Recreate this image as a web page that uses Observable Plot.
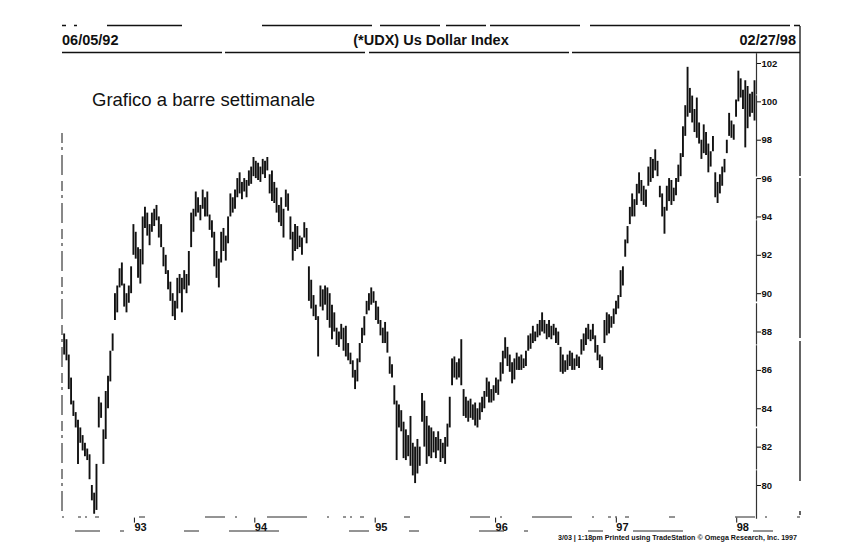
<!DOCTYPE html>
<html><head><meta charset="utf-8">
<script src="https://cdn.jsdelivr.net/npm/d3@7"></script>
<script src="https://cdn.jsdelivr.net/npm/@observablehq/plot@0.6"></script>
<style>
body{margin:0;background:#fff}
#chart{position:relative;width:846px;height:552px}
#chart svg text{font-family:"Liberation Sans",Arial,sans-serif}
</style>
</head><body><div id="chart"></div>
<script>
// ---- data ----
const startDate = "1992-06-05"; // first weekly bar, then one bar per week
const weeklyHigh = [
87.9,87.6,86.8,85.6,84.4,83.8,83.4,83.0,82.6,82.2,
81.9,81.6,80.0,79.6,81.1,84.6,84.3,82.9,84.9,85.7,
87.0,87.9,90.0,90.4,91.3,91.6,90.5,90.0,90.4,91.4,
93.6,93.2,92.4,92.3,94.0,94.5,94.2,93.6,94.2,94.4,
94.6,94.0,93.6,92.4,92.0,91.2,90.6,90.0,89.6,90.8,
91.0,90.8,91.2,91.0,92.2,94.2,94.4,95.3,95.0,94.6,
95.4,95.0,95.3,94.1,93.8,93.2,92.2,91.8,93.2,93.4,
93.0,94.0,95.2,95.0,95.4,96.0,96.3,95.8,96.0,95.9,
96.4,96.6,97.1,96.9,96.8,96.6,97.0,96.9,97.1,96.2,
96.4,95.8,95.5,94.6,95.0,94.4,95.4,95.2,94.0,93.2,
93.6,93.5,93.0,92.9,93.7,93.4,91.4,90.7,89.9,89.4,
88.8,90.4,90.2,90.4,90.3,90.0,89.4,89.0,88.2,88.0,
88.4,88.2,88.3,87.4,86.9,86.5,86.0,86.6,87.4,88.2,
88.8,89.6,90.0,90.3,90.1,89.6,89.3,88.6,88.2,88.5,
88.0,86.7,86.3,85.2,84.4,84.2,83.9,83.3,82.9,82.6,
83.6,82.2,82.0,82.4,82.0,84.8,84.4,83.6,83.1,83.0,
82.8,82.5,82.8,82.4,82.2,82.5,83.2,84.6,86.6,86.7,
86.4,86.6,87.6,85.0,84.6,84.4,84.5,84.2,84.3,84.0,
84.3,84.6,84.9,85.6,85.4,85.0,85.2,85.6,85.5,86.4,
87.0,87.7,87.2,86.8,86.4,86.6,86.9,86.7,86.8,86.6,
87.0,87.8,87.9,88.3,88.0,88.4,88.6,89.0,88.6,88.4,
88.6,88.3,88.4,88.2,88.0,87.2,86.8,86.5,86.8,87.0,
86.9,86.6,86.8,86.7,87.6,87.9,88.2,88.4,88.1,88.4,
87.8,87.3,86.8,86.7,88.6,89.0,88.9,88.8,89.2,89.6,
89.9,91.2,91.4,92.8,93.5,94.5,95.2,94.9,95.7,96.3,
95.9,95.6,95.4,96.6,97.1,97.0,97.5,96.9,95.6,95.2,
94.5,95.6,96.0,95.9,95.5,96.0,96.7,97.3,98.7,99.8,
101.8,100.7,100.3,99.6,100.2,98.9,98.0,98.8,98.4,97.8,
97.4,98.2,96.3,95.8,96.2,96.6,97.0,98.0,99.4,99.0,
98.8,100.1,101.6,101.2,100.6,101.1,100.8,100.4,100.5,101.1
];
const weeklyLow = [
86.8,86.5,85.0,84.2,83.6,83.0,81.1,82.2,81.8,81.5,
81.3,80.3,79.2,78.5,78.7,83.0,83.5,81.1,82.4,84.0,
85.4,87.0,88.6,89.0,90.3,90.4,89.3,89.0,89.5,90.0,
92.0,91.8,90.8,90.5,91.5,93.4,93.0,92.5,93.2,93.5,
93.8,92.9,92.4,91.4,91.0,90.2,89.6,88.8,88.6,89.2,
90.0,89.0,90.2,90.0,90.4,92.4,93.2,94.0,94.2,93.8,
94.4,94.0,94.0,93.3,92.9,91.4,90.8,90.3,91.6,92.2,
91.7,92.6,94.0,94.2,94.4,95.0,95.2,94.9,95.3,95.0,
95.6,95.7,96.1,96.0,95.9,95.8,96.2,96.0,96.4,95.2,
94.8,94.7,94.2,93.7,93.5,92.9,94.5,94.3,92.8,91.7,
92.2,92.3,92.4,92.0,92.9,92.6,89.6,89.2,88.8,88.6,
86.7,89.3,89.1,89.4,88.6,88.2,87.6,88.0,87.3,87.2,
87.6,87.0,86.7,86.5,86.3,85.6,85.0,85.4,86.4,87.4,
87.8,88.9,89.1,89.4,89.5,88.6,88.4,87.8,87.4,87.4,
86.9,85.8,85.6,84.2,81.3,83.0,82.8,81.4,81.3,81.5,
81.0,80.5,80.1,80.6,81.0,83.3,82.0,81.1,81.5,81.4,
81.7,81.4,81.8,81.2,81.4,81.1,82.0,83.0,85.2,85.6,
85.5,85.6,85.2,83.6,83.5,83.3,83.5,83.4,83.1,83.0,
83.4,83.8,84.0,84.6,84.3,84.3,84.4,84.8,84.7,85.4,
85.8,86.6,86.2,85.9,85.3,85.5,86.0,86.0,86.0,86.1,
86.2,87.0,87.1,87.4,87.5,87.7,87.8,88.0,87.9,87.6,
87.7,87.6,87.8,87.4,87.3,85.9,85.8,85.9,86.0,86.2,
86.0,86.0,86.2,86.1,86.8,87.0,87.3,87.6,87.5,87.6,
86.9,86.5,86.1,86.0,87.4,87.8,87.9,88.2,88.4,88.9,
89.2,89.8,90.4,91.9,92.6,93.6,94.0,94.0,94.6,95.2,
94.8,94.6,94.5,95.6,95.8,96.0,96.4,96.1,95.0,94.0,
93.1,94.3,94.8,94.6,94.8,95.1,95.8,96.1,97.1,98.2,
99.2,99.4,98.9,98.4,98.1,97.8,97.0,97.3,97.2,96.3,
96.6,97.4,95.0,94.7,95.2,95.6,96.3,97.3,98.2,98.1,
98.0,99.2,100.0,100.2,99.6,97.6,98.6,99.2,99.4,99.0
];
const yearTicks = ["1993-01-01","1994-01-01","1995-01-01","1996-01-01","1997-01-01","1998-01-01"];
const yearLabels = ["93","94","95","96","97","98"];
const priceTicks = [80,82,84,86,88,90,92,94,96,98,100,102];
const headerLeft = "06/05/92";
const headerCenter = "(*UDX) Us Dollar Index";
const headerRight = "02/27/98";
const subtitle = "Grafico a barre settimanale";
const footer = "3/03 | 1:18pm Printed using TradeStation \u00A9 Omega Research, Inc. 1997";

// ---- build ----
const t0 = new Date(startDate + "T00:00:00Z");
const data = weeklyHigh.map((h, i) => ({
  date: d3.utcDay.offset(t0, 7 * i),
  high: h,
  low: weeklyLow[i]
}));
const yearDates = yearTicks.map(d => new Date(d + "T00:00:00Z"));

const chart = Plot.plot({
  width: 846,
  height: 552,
  marginLeft: 62,
  marginRight: 90,
  marginTop: 53.4,
  marginBottom: 34.4,
  style: {background: "white", fontFamily: "Liberation Sans, Arial, sans-serif", color: "#111"},
  x: {type: "utc", domain: [new Date("1992-05-31T00:00:00Z"), new Date("1998-03-05T00:00:00Z")]},
  y: {domain: [78.3, 102.5]},
  marks: [
    Plot.ruleX(data, {x: "date", y1: "low", y2: "high", stroke: "#111", strokeWidth: 1.9}),
    Plot.frame({anchor: "right", stroke: "#333", strokeWidth: 1.2, strokeDasharray: "40,2,80,3"}),
    Plot.axisY({anchor: "right", ticks: priceTicks, tickSize: 4, tickPadding: 1, fontSize: 9.5, fontWeight: "bold", label: null, tickFormat: d => String(d)}),
    Plot.axisX({anchor: "bottom", ticks: yearDates, tickSize: 5, tickPadding: 0, textAnchor: "start", dx: 1, fontSize: 11, fontWeight: "bold", label: null,
      tickFormat: d => yearLabels[yearTicks.indexOf(d.toISOString().slice(0, 10))]})
  ]
});
document.getElementById("chart").appendChild(chart);

const svg = d3.select(chart);
const deco = svg.append("g").attr("stroke", "#111").attr("fill", "none");
// header rules and page frame (scanned look)
deco.append("line").attr("x1", 62).attr("x2", 800).attr("y1", 25.5).attr("y2", 25.5)
  .attr("stroke-width", 1.4).attr("stroke-dasharray", "4,8,3,30,75,80,110,8,60,6,40,4,90,10,200");
deco.append("line").attr("x1", 62).attr("x2", 800).attr("y1", 52.5).attr("y2", 52.5)
  .attr("stroke-width", 1.4).attr("stroke-dasharray", "160,3,140,4,200,3,240");
deco.append("line").attr("x1", 800).attr("x2", 800).attr("y1", 26).attr("y2", 520)
  .attr("stroke-width", 1.3).attr("stroke-dasharray", "150,2,160,3,140,30,4");
deco.append("line").attr("x1", 62).attr("x2", 62).attr("y1", 133).attr("y2", 515)
  .attr("stroke-width", 1).attr("stroke-dasharray", "10,4,3,5,20,6");
deco.append("line").attr("x1", 62).attr("x2", 800).attr("y1", 517).attr("y2", 517)
  .attr("stroke-width", 0.9).attr("stroke-dasharray", "2,14,3,4,2,8,4,40,6,60,20,10,2,30,40,20");
deco.append("line").attr("x1", 75).attr("x2", 800).attr("y1", 531).attr("y2", 531)
  .attr("stroke-width", 0.9).attr("stroke-dasharray", "25,20,4,60,15,30,50,70,20,40,10,60");

const txt = svg.append("g").attr("fill", "#111").attr("font-family", "Liberation Sans, Arial, sans-serif").attr("text-anchor", "start");
txt.append("text").attr("x", 62).attr("y", 45).attr("font-size", 14.5).attr("font-weight", "bold").attr("text-anchor", "start").text(headerLeft);
txt.append("text").attr("x", 431).attr("y", 45).attr("font-size", 14.5).attr("font-weight", "bold").attr("text-anchor", "middle").text(headerCenter);
txt.append("text").attr("x", 796).attr("y", 45).attr("font-size", 14.5).attr("font-weight", "bold").attr("text-anchor", "end").text(headerRight);
txt.append("text").attr("x", 92).attr("y", 106).attr("font-size", 18.5).attr("text-anchor", "start").text(subtitle);
txt.append("text").attr("x", 558).attr("y", 540).attr("font-size", 6.5).attr("font-weight", "bold").attr("text-anchor", "start")
  .attr("textLength", 239).attr("lengthAdjust", "spacingAndGlyphs").text(footer);
</script>
</body></html>
